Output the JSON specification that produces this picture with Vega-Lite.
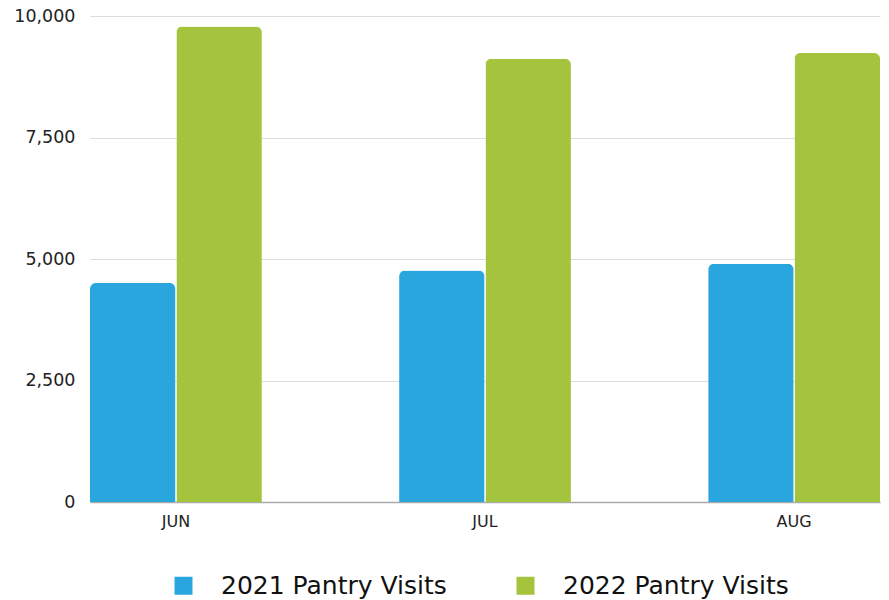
{
  "$schema": "https://vega.github.io/schema/vega-lite/v6.json",
  "width": 790,
  "height": 486,
  "autosize": {"type": "none"},
  "padding": {"left": 90, "top": 16, "right": 9, "bottom": 98},
  "background": "white",
  "config": {
    "view": {"stroke": null},
    "font": "DejaVu Sans"
  },
  "data": {
    "values": [
      {"month": "JUN", "series": "2021 Pantry Visits", "visits": 4505},
      {"month": "JUN", "series": "2022 Pantry Visits", "visits": 9785},
      {"month": "JUL", "series": "2021 Pantry Visits", "visits": 4765},
      {"month": "JUL", "series": "2022 Pantry Visits", "visits": 9120},
      {"month": "AUG", "series": "2021 Pantry Visits", "visits": 4900},
      {"month": "AUG", "series": "2022 Pantry Visits", "visits": 9240}
    ]
  },
  "mark": {"type": "bar", "cornerRadiusTopLeft": 6, "cornerRadiusTopRight": 6},
  "encoding": {
    "x": {
      "field": "month",
      "type": "nominal",
      "sort": ["JUN", "JUL", "AUG"],
      "scale": {"paddingInner": 0.444, "paddingOuter": 0},
      "axis": {
        "title": null,
        "labelAngle": 0,
        "labelFontSize": 16,
        "labelColor": "#222",
        "labelPadding": 11,
        "ticks": false,
        "domainColor": "#aaaaaa",
        "domainWidth": 1.5,
        "grid": false
      }
    },
    "xOffset": {
      "field": "series",
      "type": "nominal",
      "scale": {"paddingInner": 0.01}
    },
    "y": {
      "field": "visits",
      "type": "quantitative",
      "scale": {"domain": [0, 10000]},
      "axis": {
        "title": null,
        "values": [0, 2500, 5000, 7500, 10000],
        "format": ",.0f",
        "labelFontSize": 17.5,
        "labelColor": "#222",
        "labelPadding": 15,
        "ticks": false,
        "domain": false,
        "gridColor": "#dddddd",
        "gridWidth": 1
      }
    },
    "color": {
      "field": "series",
      "type": "nominal",
      "scale": {"range": ["#2aa6df", "#a3c43c"]},
      "legend": {
        "title": null,
        "orient": "none",
        "legendX": 81,
        "legendY": 557,
        "direction": "horizontal",
        "symbolType": "square",
        "symbolSize": 324,
        "symbolStrokeWidth": 0,
        "labelFont": "DejaVu Sans",
        "labelFontSize": 25,
        "labelColor": "#111",
        "labelOffset": 25,
        "labelLimit": 400,
        "columnPadding": 66
      }
    }
  }
}
